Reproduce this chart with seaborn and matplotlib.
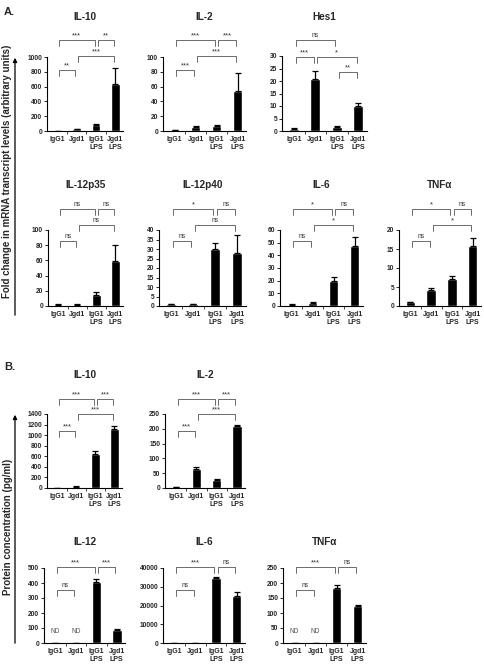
import numpy as np
import pandas as pd
import matplotlib
matplotlib.use('Agg')
import matplotlib.pyplot as plt
import matplotlib.transforms as mtransforms
from matplotlib.ticker import FuncFormatter
import seaborn as sns

# groups on every x axis
groups = ['IgG1', 'Jgd1', 'IgG1\nLPS', 'Jgd1\nLPS']

# A. fold change in mRNA transcript levels (mean, upper error)
a_il10 = [2, 25, 80, 635]
a_il10_err = [1, 5, 10, 210]
a_il2 = [1, 5.5, 6.5, 54]
a_il2_err = [0.4, 1, 2, 24]
a_hes1 = [1, 21, 1.8, 10]
a_hes1_err = [0.3, 3, 0.3, 1.2]
a_il12p35 = [1.5, 1.5, 15, 59]
a_il12p35_err = [0.5, 0.5, 4, 21]
a_il12p40 = [1, 1, 30, 28]
a_il12p40_err = [0.2, 0.2, 3, 9.5]
a_il6 = [1, 2.5, 20, 47]
a_il6_err = [0.2, 0.4, 3, 7.5]
a_tnfa = [1, 4.3, 7.2, 15.8]
a_tnfa_err = [0.15, 0.5, 0.8, 2.0]

# B. protein concentration (pg/ml)
b_il10 = [5, 25, 650, 1120]
b_il10_err = [2, 5, 50, 50]
b_il2 = [3, 65, 27, 208]
b_il2_err = [1, 5, 2, 6]
b_il12 = [0, 0, 405, 85]
b_il12_err = [0, 0, 20, 8]
b_il6 = [150, 100, 34500, 25300]
b_il6_err = [0, 0, 500, 2000]
b_tnfa = [0, 0, 185, 125]
b_tnfa_err = [0, 0, 10, 3]

# significance brackets: (from group, to group, level, label)
sig_a_il10 = [(0, 2, 0, '***'), (2, 3, 0, '**'), (1, 3, 1, '***'), (0, 1, 2, '**')]
sig_a_il2 = [(0, 2, 0, '***'), (2, 3, 0, '***'), (1, 3, 1, '***'), (0, 1, 2, '***')]
sig_a_hes1 = [(0, 2, 0, 'ns'), (0, 1, 1, '***'), (1, 3, 1, '*'), (2, 3, 2, '**')]
sig_a_il12p35 = [(0, 2, 0, 'ns'), (2, 3, 0, 'ns'), (1, 3, 1, 'ns'), (0, 1, 2, 'ns')]
sig_a_il12p40 = [(0, 2, 0, '*'), (2, 3, 0, 'ns'), (1, 3, 1, 'ns'), (0, 1, 2, 'ns')]
sig_a_il6 = [(0, 2, 0, '*'), (2, 3, 0, 'ns'), (1, 3, 1, '*'), (0, 1, 2, 'ns')]
sig_a_tnfa = [(0, 2, 0, '*'), (2, 3, 0, 'ns'), (1, 3, 1, '*'), (0, 1, 2, 'ns')]
sig_b_il10 = [(0, 2, 0, '***'), (2, 3, 0, '***'), (1, 3, 1, '***'), (0, 1, 2, '***')]
sig_b_il2 = [(0, 2, 0, '***'), (2, 3, 0, '***'), (1, 3, 1, '***'), (0, 1, 2, '***')]
sig_b_il12 = [(0, 2, 0, '***'), (2, 3, 0, '***'), (0, 1, 1, 'ns')]
sig_b_il6 = [(0, 2, 0, '***'), (2, 3, 0, 'ns'), (0, 1, 1, 'ns')]
sig_b_tnfa = [(0, 2, 0, '***'), (2, 3, 0, 'ns'), (0, 1, 1, 'ns')]

sns.set_style('ticks')
plt.rcParams['font.family'] = ['Liberation Sans', 'DejaVu Sans']

W, H = 485, 669
fig = plt.figure(figsize=(W / 100, H / 100), dpi=100)


def draw_panel(box, title_y, levels, title, vals, errs, ymax, ystep, sigs, nd=False):
    x0, x1, ytop, ybot = box
    ax = fig.add_axes([x0 / W, 1 - ybot / H, (x1 - x0) / W, (ybot - ytop) / H])
    df = pd.DataFrame({'group': groups, 'value': vals})
    sns.barplot(data=df, x='group', y='value', order=groups, color='black',
                saturation=1, width=0.46, errorbar=None, ax=ax)
    ax.errorbar(np.arange(4), vals, yerr=[np.zeros(4), errs], fmt='none',
                ecolor='black', elinewidth=0.9, capsize=2.4, capthick=0.9)
    ax.set_xlim(-0.55, 3.4)
    ax.set_ylim(0, ymax)
    ax.set_yticks(np.arange(0, ymax + ystep / 2, ystep))
    ax.yaxis.set_major_formatter(FuncFormatter(lambda v, p: f'{v:.0f}'))
    ax.set_xlabel('')
    ax.set_ylabel('')
    sns.despine(ax=ax)
    for s in ['left', 'bottom']:
        ax.spines[s].set_linewidth(0.8)
        ax.spines[s].set_color('black')
    ax.tick_params(axis='y', length=2, width=0.7, pad=1.5, labelsize=4.8)
    ax.tick_params(axis='x', length=0, pad=3.5, labelsize=5)
    ax.set_xticks([0.5, 1.5, 2.5], minor=True)
    ax.tick_params(axis='x', which='minor', length=2, width=0.6)
    for lab in ax.get_xticklabels() + ax.get_yticklabels():
        lab.set_fontweight('bold')

    fig.text((x0 + x1) / 2 / W, 1 - title_y / H, title, ha='center', va='center',
             fontsize=7.2, fontweight='bold')

    trans = mtransforms.blended_transform_factory(ax.transData, fig.transFigure)
    tick = 6 / H
    for i, j, lvl, lab in sigs:
        yf = 1 - levels[lvl] / H
        a, b = i + 0.08, j - 0.08
        ax.plot([a, a, b, b], [yf - tick, yf, yf, yf - tick], transform=trans,
                clip_on=False, color='#555555', lw=0.6)
        ax.text((i + j) / 2, yf + 1 / H, lab, transform=trans, ha='center',
                va='bottom', fontsize=4.8 if lab == 'ns' else 5.6, color='#333333')
    if nd:
        for k in (0, 1):
            ax.text(k, 0.15, 'ND', transform=mtransforms.blended_transform_factory(ax.transData, ax.transAxes),
                    ha='center', va='center', fontsize=4.8, color='#555555')
    return ax


# row A1
lv = [40, 56, 70]
draw_panel((47, 123, 57, 131), 17, lv, 'IL-10', a_il10, a_il10_err, 1000, 200, sig_a_il10)
draw_panel((163, 246, 57, 131), 17, lv, 'IL-2', a_il2, a_il2_err, 100, 20, sig_a_il2)
draw_panel((282, 367, 56, 131), 17, [40, 57, 72], 'Hes1', a_hes1, a_hes1_err, 30, 5, sig_a_hes1)
# row A2
lv = [209, 225, 241]
draw_panel((48, 123, 230, 306), 185, lv, 'IL-12p35', a_il12p35, a_il12p35_err, 100, 20, sig_a_il12p35)
draw_panel((159, 246, 230, 306), 185, lv, 'IL-12p40', a_il12p40, a_il12p40_err, 40, 5, sig_a_il12p40)
draw_panel((280, 363, 230, 306), 185, lv, 'IL-6', a_il6, a_il6_err, 60, 10, sig_a_il6)
draw_panel((399, 481, 230, 306), 185, lv, 'TNFα', a_tnfa, a_tnfa_err, 20, 5, sig_a_tnfa)
# row B1
lv = [399, 414, 431]
draw_panel((47, 122, 414, 488), 375, lv, 'IL-10', b_il10, b_il10_err, 1400, 200, sig_b_il10)
draw_panel((165, 245, 414, 488), 375, lv, 'IL-2', b_il2, b_il2_err, 250, 50, sig_b_il2)
# row B2
lv = [567, 590]
draw_panel((44, 125, 568, 643), 542, lv, 'IL-12', b_il12, b_il12_err, 500, 100, sig_b_il12, nd=True)
draw_panel((163, 245, 568, 643), 542, lv, 'IL-6', b_il6, b_il6_err, 40000, 10000, sig_b_il6)
draw_panel((283, 366, 568, 643), 542, lv, 'TNFα', b_tnfa, b_tnfa_err, 250, 50, sig_b_tnfa, nd=True)

# panel letters and shared y labels with arrows
fig.text(4 / W, 1 - 12 / H, 'A.', fontsize=8, fontweight='bold', va='center')
fig.text(4 / W, 1 - 367 / H, 'B.', fontsize=8, fontweight='bold', va='center')
fig.text(7 / W, 1 - 171 / H, 'Fold change in mRNA transcript levels (arbitrary units)',
         rotation=90, ha='center', va='center', fontsize=7, fontweight='bold')
fig.text(8 / W, 1 - 527 / H, 'Protein concentration (pg/ml)',
         rotation=90, ha='center', va='center', fontsize=7, fontweight='bold')
for ytop, ybot in [(55, 318), (412, 646)]:
    fig.add_artist(matplotlib.patches.FancyArrowPatch(
        (15 / W, 1 - ybot / H), (15 / W, 1 - ytop / H), transform=fig.transFigure,
        arrowstyle='-|>', mutation_scale=6, lw=0.9, color='black'))

fig.savefig('out.png', dpi=100)
